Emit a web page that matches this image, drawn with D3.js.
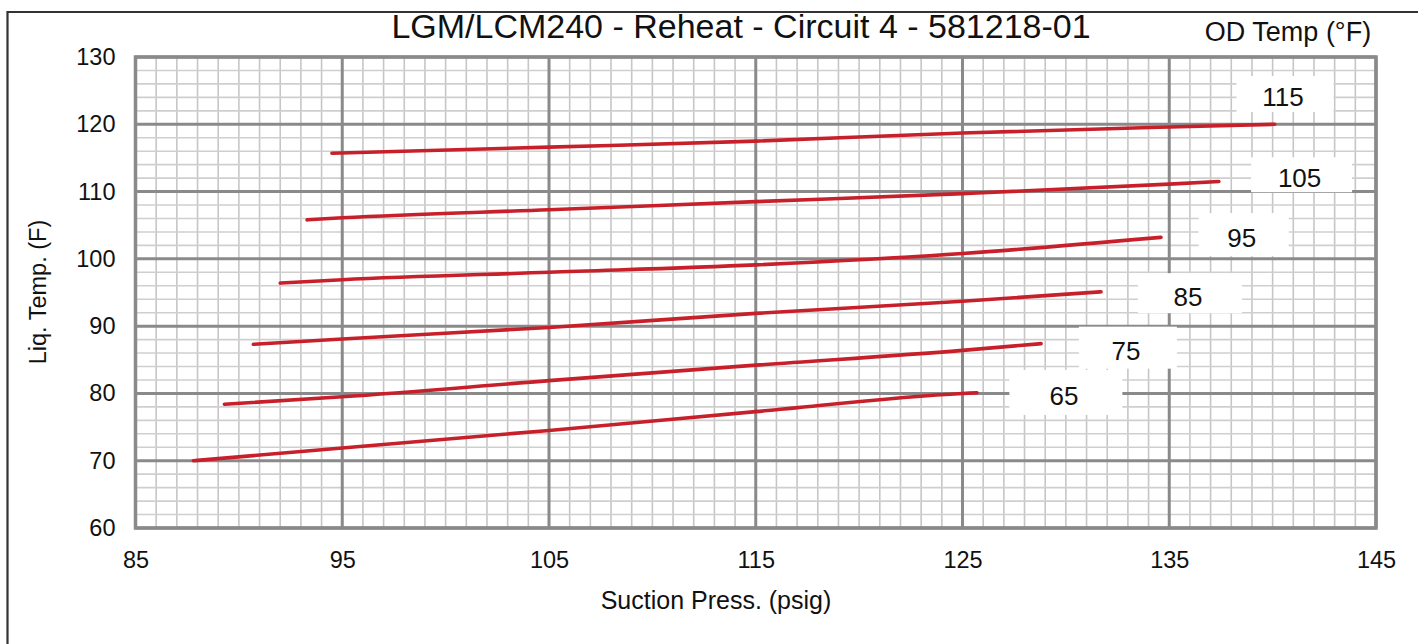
<!DOCTYPE html>
<html>
<head>
<meta charset="utf-8">
<script src="https://cdn.jsdelivr.net/npm/d3@7"></script>
<style>
  html, body { margin: 0; padding: 0; background: #fff; }
  svg { display: block; font-family: "Liberation Sans", Arial, sans-serif; }
</style>
</head>
<body>
<svg id="chart" width="1418" height="644"></svg>
<script>
// Outdoor temperature curves: suction pressure (psig) vs liquid temperature (°F)
const odTemps = [115, 105, 95, 85, 75, 65];
const suction115 = [94.5, 105, 115, 125, 135, 140.1];
const liquid115  = [115.7, 116.6, 117.5, 118.7, 119.6, 120.0];
const suction105 = [93.3, 95, 105, 115, 125, 135, 137.4];
const liquid105  = [105.8, 106.1, 107.3, 108.5, 109.7, 111.1, 111.5];
const suction95  = [92.0, 95, 105, 115, 125, 134.6];
const liquid95   = [96.4, 96.9, 98.0, 99.1, 100.8, 103.2];
const suction85  = [90.7, 95, 105, 115, 125, 131.7];
const liquid85   = [87.3, 88.1, 89.8, 91.9, 93.7, 95.1];
const suction75  = [89.3, 95, 105, 115, 125, 128.8];
const liquid75   = [78.4, 79.5, 81.9, 84.2, 86.4, 87.4];
const suction65  = [87.8, 95, 105, 115, 125, 125.7];
const liquid65   = [70.0, 71.9, 74.5, 77.3, 80.0, 80.1];

const xTicks = [85, 95, 105, 115, 125, 135, 145];
const yTicks = [60, 70, 80, 90, 100, 110, 120, 130];

const series = [
  { od: odTemps[0], xs: suction115, ys: liquid115 },
  { od: odTemps[1], xs: suction105, ys: liquid105 },
  { od: odTemps[2], xs: suction95,  ys: liquid95 },
  { od: odTemps[3], xs: suction85,  ys: liquid85 },
  { od: odTemps[4], xs: suction75,  ys: liquid75 },
  { od: odTemps[5], xs: suction65,  ys: liquid65 }
];

// Label box placement for each curve (in data units: centre x, centre y)
const labelPos = [
  { cx: 140.6, cy: 124.5 },
  { cx: 141.4, cy: 112.5 },
  { cx: 138.6, cy: 103.6 },
  { cx: 136.0, cy: 94.9 },
  { cx: 133.0, cy: 86.8 },
  { cx: 130.0, cy: 80.15 }
];
const labelW = [97, 101, 90, 104, 98, 113];
const labelH = [36, 35, 43, 40, 42, 45];

const svg = d3.select("#chart");
const W = 1418, H = 644;
const plot = { left: 135.5, right: 1376, top: 57, bottom: 528 };

const x = d3.scaleLinear().domain([85, 145]).range([plot.left, plot.right]);
const y = d3.scaleLinear().domain([60, 130]).range([plot.bottom, plot.top]);

// outer frame (top and left edges visible)
svg.append("path")
  .attr("d", `M${W},12 H7.5 V${H}`)
  .attr("fill", "none").attr("stroke", "#333").attr("stroke-width", 2.2);

// minor grid
const g = svg.append("g");
g.selectAll("line.vminor").data(d3.range(86, 145, 1).filter(v => v % 10 !== 5))
  .join("line").attr("class", "vminor")
  .attr("x1", d => x(d)).attr("x2", d => x(d))
  .attr("y1", plot.top).attr("y2", plot.bottom)
  .attr("stroke", "#c6c6c6").attr("stroke-width", 1.6);
g.selectAll("line.hminor").data(d3.range(62, 130, 2).filter(v => v % 10 !== 0))
  .join("line").attr("class", "hminor")
  .attr("x1", plot.left).attr("x2", plot.right)
  .attr("y1", d => y(d)).attr("y2", d => y(d))
  .attr("stroke", "#cfcfcf").attr("stroke-width", 1.6);

// major grid
g.selectAll("line.vmajor").data(xTicks)
  .join("line").attr("class", "vmajor")
  .attr("x1", d => x(d)).attr("x2", d => x(d))
  .attr("y1", plot.top).attr("y2", plot.bottom)
  .attr("stroke", "#8a8a8a").attr("stroke-width", 3);
g.selectAll("line.hmajor").data(yTicks)
  .join("line").attr("class", "hmajor")
  .attr("x1", plot.left).attr("x2", plot.right)
  .attr("y1", d => y(d)).attr("y2", d => y(d))
  .attr("stroke", "#8a8a8a").attr("stroke-width", 3);

// plot border
svg.append("rect")
  .attr("x", plot.left).attr("y", plot.top)
  .attr("width", plot.right - plot.left).attr("height", plot.bottom - plot.top)
  .attr("fill", "none").attr("stroke", "#8a8a8a").attr("stroke-width", 3.5);

// axes (labels only; the grid carries the lines)
const xAxis = svg.append("g")
  .attr("transform", `translate(0,${plot.bottom + 20})`)
  .call(d3.axisBottom(x).tickValues(xTicks).tickSize(0).tickFormat(d3.format("d")));
xAxis.select(".domain").remove();
xAxis.selectAll("text").attr("font-size", 23.5).attr("fill", "#111")
  .attr("font-family", "Liberation Sans, Arial, sans-serif");

const yAxis = svg.append("g")
  .attr("transform", `translate(${plot.left - 17},0)`)
  .call(d3.axisLeft(y).tickValues(yTicks).tickSize(0).tickFormat(d3.format("d")));
yAxis.select(".domain").remove();
yAxis.selectAll("text").attr("font-size", 23.5).attr("fill", "#111")
  .attr("font-family", "Liberation Sans, Arial, sans-serif");

// curves
const line = d3.line().x(d => x(d[0])).y(d => y(d[1])).curve(d3.curveMonotoneX);
svg.append("g").selectAll("path").data(series).join("path")
  .attr("d", s => line(s.xs.map((v, i) => [v, s.ys[i]])))
  .attr("fill", "none").attr("stroke", "#c8202a").attr("stroke-width", 3.6)
  .attr("stroke-linecap", "round");

// curve labels on white boxes
const lab = svg.append("g").selectAll("g").data(series).join("g")
  .attr("transform", (s, i) => `translate(${x(labelPos[i].cx)},${y(labelPos[i].cy)})`);
lab.append("rect")
  .attr("x", (s, i) => -labelW[i] / 2).attr("y", (s, i) => -labelH[i] / 2)
  .attr("width", (s, i) => labelW[i]).attr("height", (s, i) => labelH[i])
  .attr("fill", "#fff");
lab.append("text")
  .attr("text-anchor", "middle").attr("y", 3).attr("dy", "0.36em")
  .attr("x", -2)
  .attr("font-size", 26).attr("fill", "#111")
  .text(s => s.od);

// titles
svg.append("text").attr("x", 741).attr("y", 38).attr("text-anchor", "middle")
  .attr("font-size", 34).attr("fill", "#111")
  .text("LGM/LCM240 - Reheat - Circuit 4 - 581218-01");
svg.append("text").attr("x", 1288).attr("y", 41).attr("text-anchor", "middle")
  .attr("font-size", 27).attr("fill", "#111")
  .text("OD Temp (°F)");
svg.append("text").attr("x", 716).attr("y", 609).attr("text-anchor", "middle")
  .attr("font-size", 25).attr("fill", "#111")
  .text("Suction Press. (psig)");
svg.append("text").attr("transform", "translate(46,292) rotate(-90)")
  .attr("text-anchor", "middle")
  .attr("font-size", 23.5).attr("fill", "#111")
  .text("Liq. Temp. (F)");
</script>
</body>
</html>
